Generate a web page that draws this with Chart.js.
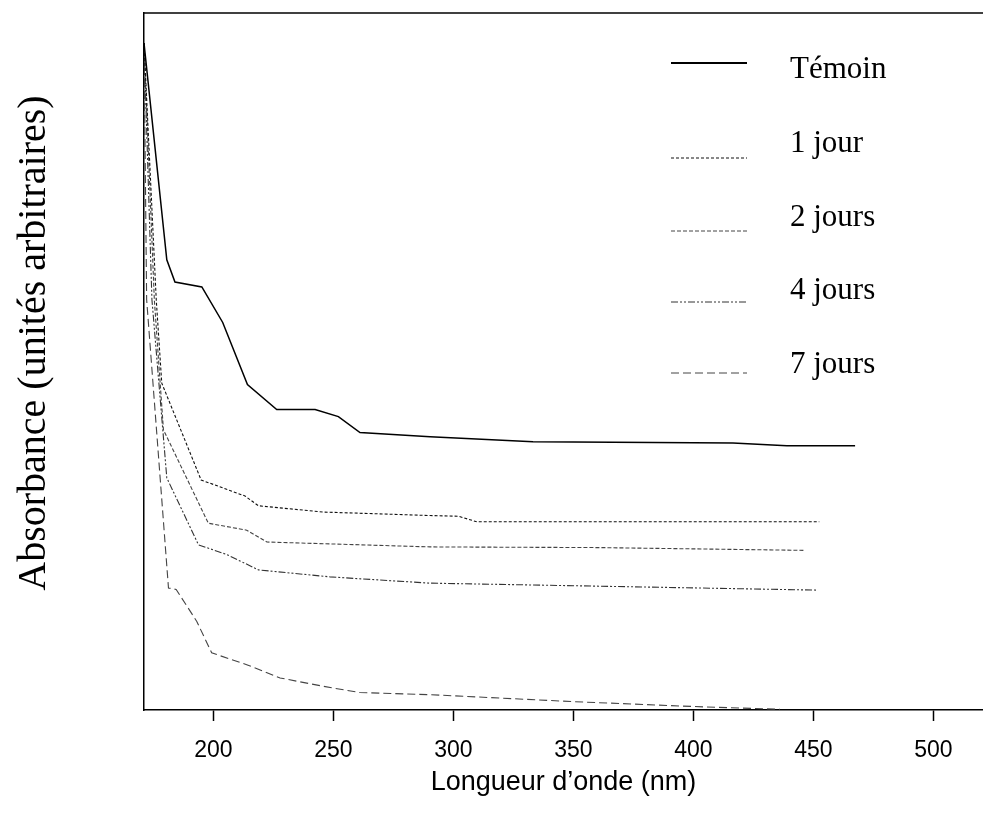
<!DOCTYPE html>
<html>
<head>
<meta charset="utf-8">
<script src="https://cdn.jsdelivr.net/npm/chart.js@4.4.0/dist/chart.umd.min.js"></script>
<style>
  html, body { margin: 0; padding: 0; background: #fff; }
  #wrap { width: 983px; height: 826px; }
</style>
</head>
<body>
<div id="wrap"><canvas id="spectre" width="983" height="826"></canvas></div>
<script>
// series (wavelength in nm, absorbance in arbitrary units)
var temoinX = [171.1, 180.6, 184.0, 195.2, 203.9, 214.2, 226.4, 242.4, 252.1, 261.1, 290.3, 333.2, 416.5, 439.0, 467.4];
var temoinY = [0.957, 0.646, 0.614, 0.607, 0.556, 0.467, 0.431, 0.431, 0.421, 0.398, 0.392, 0.385, 0.383, 0.379, 0.379];

var jour1X = [171.1, 176.2, 178.5, 194.9, 213.2, 218.8, 245.8, 290.3, 302.1, 309.8, 452.5];
var jour1Y = [0.957, 0.589, 0.469, 0.330, 0.307, 0.293, 0.284, 0.279, 0.278, 0.270, 0.270];

var jours2X = [171.1, 175.4, 179.2, 197.9, 213.9, 222.3, 290.3, 361.1, 446.5];
var jours2Y = [0.957, 0.589, 0.402, 0.268, 0.258, 0.241, 0.234, 0.233, 0.229];

var jours4X = [171.1, 174.4, 180.6, 193.8, 205.6, 218.8, 248.6, 290.3, 451.4];
var jours4Y = [0.957, 0.589, 0.333, 0.237, 0.223, 0.201, 0.191, 0.182, 0.172];

var jours7X = [171.1, 172.2, 181.3, 184.5, 193.1, 199.3, 213.9, 227.8, 245.8, 261.1, 290.3, 350.0, 400.0, 436.1];
var jours7Y = [0.957, 0.589, 0.175, 0.173, 0.127, 0.082, 0.065, 0.046, 0.034, 0.025, 0.022, 0.012, 0.005, 0.001];

var xTicks = [200, 250, 300, 350, 400, 450, 500];

function toPoints(xs, ys) {
    var pts = [];
    for (var i = 0; i < xs.length; i++) {
        pts.push({ x: xs[i], y: ys[i] });
    }
    return pts;
}

function serie(label, xs, ys, color, width, dash) {
    return {
        label: label,
        data: toPoints(xs, ys),
        borderColor: color,
        borderWidth: width,
        borderDash: dash,
        pointRadius: 0,
        fill: false,
        tension: 0
    };
}

// legend drawn inside the box, like in the original figure
var legendeMaison = {
    id: "legendeMaison",
    afterDraw: function (chart) {
        var ctx = chart.ctx;
        var lineY = [63, 158, 231, 302, 373];
        var textY = [78, 152, 226, 299, 373];
        ctx.save();
        chart.data.datasets.forEach(function (ds, i) {
            ctx.beginPath();
            ctx.strokeStyle = ds.borderColor;
            ctx.lineWidth = i === 0 ? 2 : 1;
            ctx.setLineDash(ds.borderDash);
            ctx.moveTo(671, lineY[i]);
            ctx.lineTo(747, lineY[i]);
            ctx.stroke();
            ctx.setLineDash([]);
            ctx.fillStyle = "#000";
            ctx.font = "31px 'Liberation Serif'";
            ctx.textAlign = "left";
            ctx.textBaseline = "alphabetic";
            ctx.fillText(ds.label, 790, textY[i]);
        });

        // top edge of the frame
        var a = chart.chartArea;
        ctx.beginPath();
        ctx.strokeStyle = "#000";
        ctx.lineWidth = 1.5;
        ctx.moveTo(a.left, a.top);
        ctx.lineTo(983, a.top);
        ctx.stroke();

        // y title
        ctx.translate(34, 343);
        ctx.rotate(-Math.PI / 2);
        ctx.textAlign = "center";
        ctx.textBaseline = "middle";
        ctx.font = "40px 'Liberation Serif'";
        ctx.fillText("Absorbance (unités arbitraires)", 0, 0);
        ctx.restore();
    }
};

document.addEventListener("DOMContentLoaded", function () {
    var ctx = document.getElementById("spectre").getContext("2d");

    var data = {
        datasets: [
            serie("Témoin", temoinX, temoinY, "#000", 1.5, []),
            serie("1 jour", jour1X, jour1Y, "#111", 1.1, [3, 2]),
            serie("2 jours", jours2X, jours2Y, "#444", 1.1, [4, 2]),
            serie("4 jours", jours4X, jours4Y, "#333", 1.1, [7, 2, 2, 2, 2, 2]),
            serie("7 jours", jours7X, jours7Y, "#444", 1.1, [8, 4])
        ]
    };

    var chart = new Chart(ctx, {
        type: "line",
        data: data,
        options: {
            responsive: false,
            animation: false,
            events: [],
            layout: { padding: { top: 13, right: 0, left: 0, bottom: 0 } },
            plugins: {
                legend: { display: false },
                tooltip: { enabled: false }
            },
            scales: {
                x: {
                    type: "linear",
                    min: 171.1,
                    max: 520.7,
                    afterBuildTicks: function (scale) {
                        scale.ticks = xTicks.map(function (v) { return { value: v }; });
                    },
                    afterFit: function (scale) { scale.height = 116; },
                    grid: {
                        display: true,
                        drawOnChartArea: false,
                        drawTicks: true,
                        tickLength: 11,
                        tickColor: "#000",
                        tickWidth: 1.5
                    },
                    border: { display: true, color: "#000", width: 1.5 },
                    ticks: {
                        color: "#000",
                        padding: 16,
                        maxRotation: 0,
                        font: { family: "'Liberation Sans'", size: 23 }
                    },
                    title: {
                        display: true,
                        text: "Longueur d’onde (nm)",
                        color: "#000",
                        padding: { top: 0, bottom: 27 },
                        font: { family: "'Liberation Sans'", size: 27 }
                    }
                },
                y: {
                    min: 0,
                    max: 1,
                    afterFit: function (scale) { scale.width = 144; },
                    grid: { display: false },
                    border: { display: true, color: "#000", width: 1.5 },
                    ticks: { display: false }
                }
            }
        },
        plugins: [legendeMaison]
    });
});
</script>
</body>
</html>
